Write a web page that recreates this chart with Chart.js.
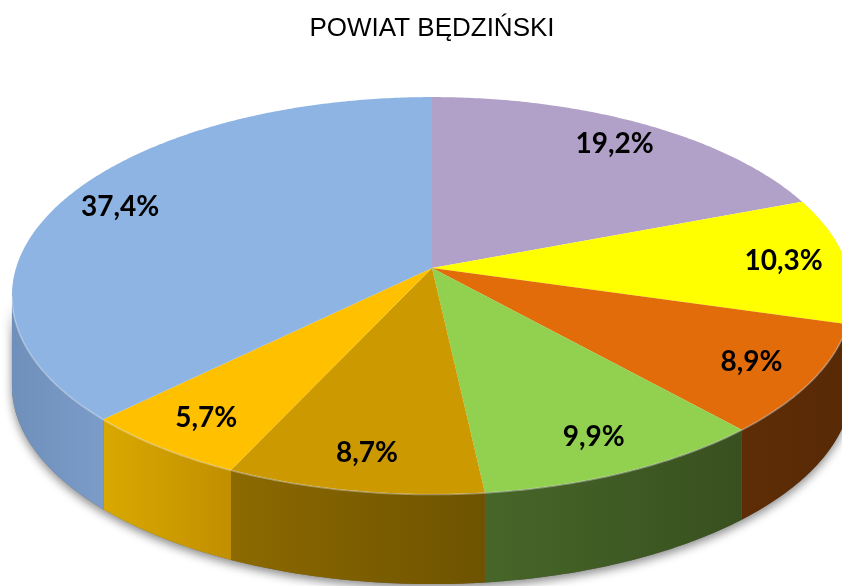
<!DOCTYPE html>
<html lang="pl">
<head>
<meta charset="UTF-8">
<title>Powiat będziński</title>
<script src="https://cdn.jsdelivr.net/npm/chart.js@4"></script>
<style>
    html, body { margin: 0; padding: 0; background: #fff; }
</style>
</head>
<body>
<canvas id="pie" width="842" height="586"></canvas>
<script>
    // dane (kolejność: od godz. 12 zgodnie z ruchem wskazówek)
    const labels = ['Kategoria 1', 'Kategoria 2', 'Kategoria 3', 'Kategoria 4', 'Kategoria 5', 'Kategoria 6', 'Kategoria 7'];
    const values = [19.2, 10.3, 8.9, 9.9, 8.7, 5.7, 37.4];

    // kolory: wierzch i boczna ścianka (lewo -> prawo)
    const topColors = ['#B1A0C7', '#FFFF00', '#E26B0A', '#92D050', '#CC9900', '#FFC000', '#8DB4E2'];
    const wallColors = [
        ['#8a7aa0', '#7a6a90'],
        ['#bcbc00', '#a4a400'],
        ['#5e2d06', '#572905'],
        ['#476629', '#38501f'],
        ['#8c6a00', '#6e5300'],
        ['#d9a900', '#c18f00'],
        ['#7090bc', '#7b9cc8']
    ];

    // perspektywa: x = cx + R*AX*u/(1-E*v), y = cy + R*BY*v/(1-E*v)
    const E = 0.1385;
    const AX = 416 / 420;
    const BY = 194.7 / 420;
    const DEPTH = 90;
    const LABEL_R = 0.85;

    const fmt = v => v.toFixed(1).replace('.', ',') + '%';

    const pie3d = {
        id: 'pie3d',
        beforeDatasetsDraw(chart) {
            const ctx = chart.ctx;
            const arcs = chart.getDatasetMeta(0).data;
            if (!arcs.length) return;
            const cx = arcs[0].x, cy = arcs[0].y, R = arcs[0].outerRadius;

            const proj = (t, f, dy) => {
                const u = f * Math.cos(t), v = f * Math.sin(t);
                const w = 1 - E * v;
                return [cx + R * AX * u / w, cy + R * BY * v / w + dy];
            };
            const rim = (a0, a1, dy, first) => {
                const n = Math.max(2, Math.ceil(Math.abs(a1 - a0) / 0.01));
                for (let i = 0; i <= n; i++) {
                    const p = proj(a0 + (a1 - a0) * i / n, 1, dy);
                    if (i === 0 && first) ctx.moveTo(p[0], p[1]); else ctx.lineTo(p[0], p[1]);
                }
            };
            const wallPath = (a0, a1) => {
                ctx.beginPath();
                rim(a0, a1, 0, true);
                rim(a1, a0, DEPTH, false);
                ctx.closePath();
            };

            const lo = Math.asin(E), hi = Math.PI - Math.asin(E);

            // cień pod tortem
            ctx.save();
            ctx.shadowColor = 'rgba(0,0,0,0.45)';
            ctx.shadowBlur = 10;
            ctx.shadowOffsetY = 4;
            ctx.fillStyle = '#6a6a6a';
            wallPath(lo, hi);
            ctx.fill();
            ctx.restore();

            // ścianki boczne
            arcs.forEach((arc, i) => {
                const a0 = Math.max(arc.startAngle, lo);
                const a1 = Math.min(arc.endAngle, hi);
                if (a1 <= a0) return;
                const xl = proj(a1, 1, 0)[0], xr = proj(a0, 1, 0)[0];
                const g = ctx.createLinearGradient(xl, 0, xr + 0.01, 0);
                g.addColorStop(0, wallColors[i][0]);
                g.addColorStop(1, wallColors[i][1]);
                ctx.fillStyle = g;
                wallPath(a0, a1);
                ctx.fill();
            });

            // wierzch
            arcs.forEach(arc => {
                ctx.beginPath();
                ctx.moveTo(cx, cy);
                rim(arc.startAngle, arc.endAngle, 0, false);
                ctx.closePath();
                ctx.fillStyle = arc.options.backgroundColor;
                ctx.fill();
            });

            // jasna krawędź z przodu
            ctx.save();
            ctx.strokeStyle = 'rgba(255,255,255,0.35)';
            ctx.lineWidth = 1.5;
            ctx.beginPath();
            rim(lo, hi, 0.5, true);
            ctx.stroke();
            ctx.restore();

            chart.$proj = proj;
            return false;
        },
        afterDraw(chart) {
            const ctx = chart.ctx;
            const arcs = chart.getDatasetMeta(0).data;
            if (!arcs.length || !chart.$proj) return;
            ctx.save();
            ctx.font = 'bold 28px Lato, "Open Sans", sans-serif';
            ctx.fillStyle = '#000';
            ctx.textAlign = 'center';
            ctx.textBaseline = 'middle';
            arcs.forEach((arc, i) => {
                const mid = (arc.startAngle + arc.endAngle) / 2;
                const p = chart.$proj(mid, LABEL_R, 0);
                ctx.fillText(fmt(values[i]), p[0], p[1]);
            });
            ctx.restore();
        }
    };

    new Chart(document.getElementById('pie'), {
        type: 'pie',
        data: {
            labels: labels,
            datasets: [{
                data: values,
                backgroundColor: topColors,
                borderWidth: 0,
                radius: 420
            }]
        },
        options: {
            responsive: false,
            animation: false,
            events: [],
            layout: { padding: { left: 22, right: 0, top: 0, bottom: 94 } },
            plugins: {
                legend: { display: false },
                tooltip: { enabled: false },
                title: {
                    display: true,
                    text: 'POWIAT BĘDZIŃSKI',
                    color: '#000',
                    font: { family: '"Liberation Sans", Arial, sans-serif', size: 26, weight: 'normal', lineHeight: 1.2 },
                    padding: { top: 13, bottom: 0 }
                }
            }
        },
        plugins: [pie3d]
    });
</script>
</body>
</html>
